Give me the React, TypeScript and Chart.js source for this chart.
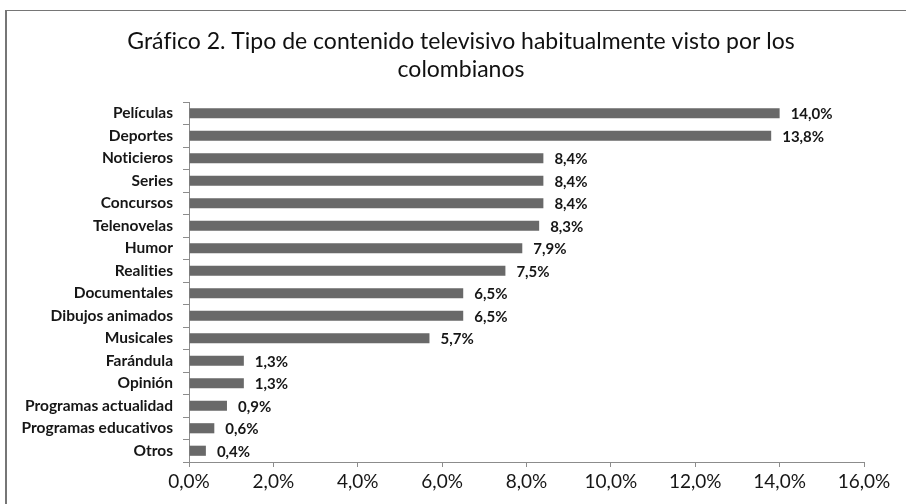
import React, { useEffect, useRef } from "react";
import { Chart, registerables } from "chart.js";

Chart.register(...registerables);

const titleLines = [
  "Gráfico 2. Tipo de contenido televisivo habitualmente visto por los",
  "colombianos",
];

const categories = [
  "Películas",
  "Deportes",
  "Noticieros",
  "Series",
  "Concursos",
  "Telenovelas",
  "Humor",
  "Realities",
  "Documentales",
  "Dibujos animados",
  "Musicales",
  "Farándula",
  "Opinión",
  "Programas actualidad",
  "Programas educativos",
  "Otros",
];

const values = [14.0, 13.8, 8.4, 8.4, 8.4, 8.3, 7.9, 7.5, 6.5, 6.5, 5.7, 1.3, 1.3, 0.9, 0.6, 0.4];

const xMin = 0;
const xMax = 16;
const xStep = 2;

const fmt = (v: number) => v.toFixed(1).replace(".", ",") + "%";

const frameColor = "#767676";
const axisColor = "#8c8c8c";
const barColor = "#696969";
const textColor = "#161616";

const framePlugin = {
  id: "frame",
  beforeDraw(chart: any) {
    const ctx = chart.ctx;
    try {
      (ctx as any).textRendering = "optimizeSpeed";
    } catch (e) {}
    ctx.save();
    ctx.fillStyle = "#ffffff";
    ctx.fillRect(0, 0, chart.width, chart.height);
    ctx.fillStyle = frameColor;
    ctx.fillRect(5, 10, 2, chart.height - 10);
    ctx.fillRect(5, 10, chart.width - 5, 1);
    // title
    ctx.fillStyle = "#111111";
    ctx.font = "23px Lato";
    ctx.textAlign = "center";
    ctx.textBaseline = "middle";
    titleLines.forEach((line, i) => {
      ctx.fillText(line, 461, 42 + i * 28);
    });
    ctx.restore();
  },
};

const valueLabelPlugin = {
  id: "valueLabels",
  afterDatasetsDraw(chart: any) {
    const ctx = chart.ctx;
    const meta = chart.getDatasetMeta(0);
    const data = chart.data.datasets[0].data as number[];
    ctx.save();
    ctx.font = "bold 15px Lato";
    ctx.fillStyle = textColor;
    ctx.textAlign = "left";
    ctx.textBaseline = "middle";
    meta.data.forEach((bar: any, i: number) => {
      ctx.fillText(fmt(data[i]), bar.x + 11, bar.y + 1);
    });
    ctx.restore();
  },
};

export default function App() {
  const canvasRef = useRef<HTMLCanvasElement | null>(null);

  useEffect(() => {
    document.body.style.margin = "0";
    const canvas = canvasRef.current;
    if (!canvas) return;
    const chart = new Chart(canvas, {
      type: "bar",
      data: {
        labels: categories,
        datasets: [
          {
            data: values,
            backgroundColor: barColor,
            borderWidth: 0,
            barPercentage: 0.45,
            categoryPercentage: 1,
          },
        ],
      },
      options: {
        indexAxis: "y",
        animation: false,
        responsive: true,
        maintainAspectRatio: false,
        layout: { padding: { left: 0, right: 42, top: 102, bottom: 0 } },
        plugins: {
          legend: { display: false },
          tooltip: { enabled: false },
          title: { display: false },
        },
        scales: {
          x: {
            type: "linear",
            min: xMin,
            max: xMax,
            ticks: {
              stepSize: xStep,
              color: textColor,
              font: { family: "Lato", size: 19 },
              padding: 3,
              callback: (v: any) => fmt(Number(v)),
            },
            grid: { drawOnChartArea: false, tickLength: 5, color: axisColor },
            border: { color: axisColor },
            afterFit: (scale: any) => {
              scale.height = 42;
            },
          },
          y: {
            ticks: {
              color: textColor,
              font: { family: "Lato", size: 15.5, weight: "bold" },
              padding: 10,
              autoSkip: false,
            },
            grid: { drawOnChartArea: false, tickLength: 6, color: axisColor, offset: true },
            border: { color: axisColor },
            afterFit: (scale: any) => {
              scale.width = 189;
            },
          },
        },
      },
      plugins: [framePlugin, valueLabelPlugin],
    });
    return () => chart.destroy();
  }, []);

  return (
    <div style={{ width: 906, height: 504, position: "relative" }}>
      <canvas ref={canvasRef} />
    </div>
  );
}
